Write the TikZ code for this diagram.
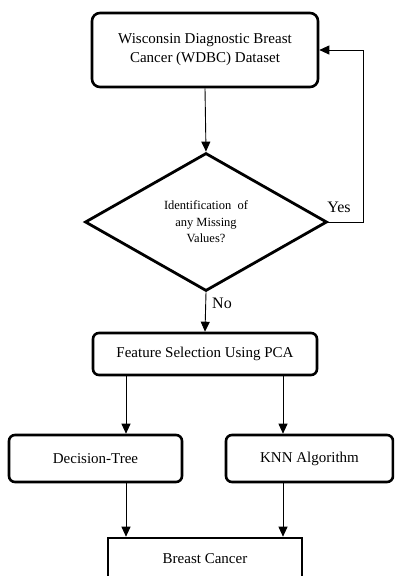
\documentclass[tikz,border=0pt]{standalone}
\usepackage{fontspec}
\setmainfont{Liberation Serif}
\usetikzlibrary{arrows.meta,shapes.geometric}
\begin{document}
\begin{tikzpicture}[x=1pt,y=-1pt,
  box/.style={draw,line width=2.6pt,rounded corners=8pt,align=center,inner sep=0pt,font=\fontsize{15}{19}\selectfont},
  sqbox/.style={draw,line width=2.6pt,align=center,inner sep=0pt,font=\fontsize{15}{19}\selectfont},
  dec/.style={draw,line width=2.8pt,diamond,inner sep=0pt,align=center,font=\fontsize{12.5}{16.5}\selectfont},
  arr/.style={line width=0.9pt,-{Triangle[length=10pt,width=9pt]}},
  lbl/.style={font=\fontsize{16}{18}\selectfont,inner sep=0pt}]
\useasboundingbox (0,0) rectangle (394,576);
\clip (0,0) rectangle (394,576);
\node[box,minimum width=226pt,minimum height=74pt] (top) at (205,50) {Wisconsin Diagnostic Breast\\Cancer (WDBC) Dataset};
\node[dec,minimum width=242pt,minimum height=138pt,aspect=1.75] (dia) at (206,222) {Identification\ \ of\\any Missing\\Values?};
\node[box,rounded corners=6pt,minimum width=224pt,minimum height=42pt] (feat) at (205,354) {Feature Selection Using PCA};
\node[box,rounded corners=6pt,minimum width=173pt,minimum height=47pt] (dt) at (95.5,458.5) {Decision-Tree};
\node[box,rounded corners=6pt,minimum width=167pt,minimum height=47pt] (knn) at (309.5,458.5) {KNN Algorithm};
\node[sqbox,minimum width=194pt,minimum height=42pt] (bc) at (205,559) {Breast Cancer};
\coordinate (loop) at (363,222);
\draw[arr] (top.south) -- (dia.north);
\draw[arr] (dia.east) -- (loop) |- (top.east);
\draw[arr] (dia.south) -- (feat.north);
\draw[arr] (feat.south -| 126,0) -- (dt.north -| 126,0);
\draw[arr] (feat.south -| 283,0) -- (knn.north -| 283,0);
\draw[arr] (dt.south -| 126,0) -- (bc.north -| 126,0);
\draw[arr] (knn.south -| 283,0) -- (bc.north -| 283,0);
\node[lbl] (yes) at (339,207) {Yes};
\node[lbl] (no) at (222,303) {No};
\end{tikzpicture}
\end{document}
